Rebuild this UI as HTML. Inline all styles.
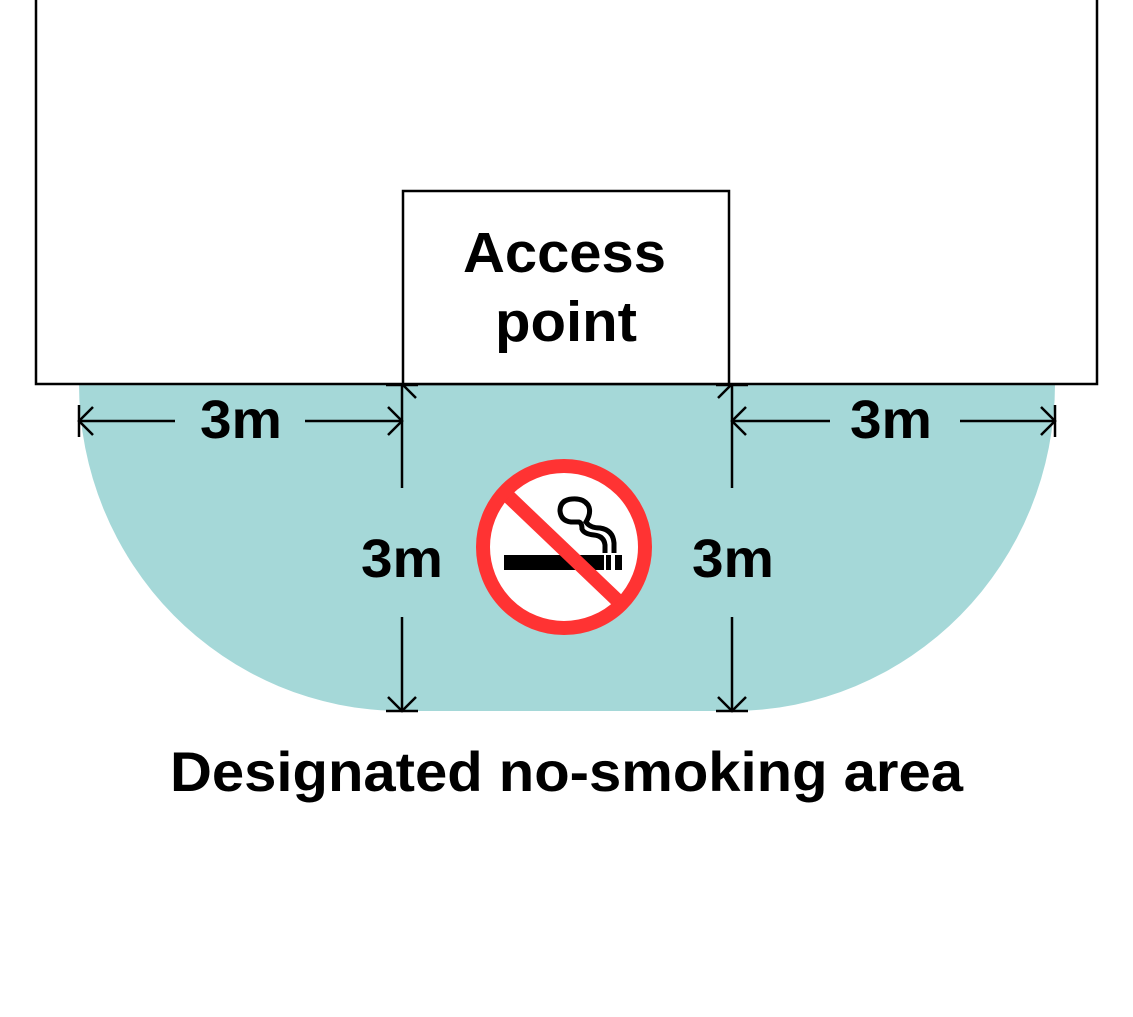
<!DOCTYPE html>
<html><head><style>body{margin:0;background:#fff}svg{display:block}</style></head><body>
<svg width="1133" height="1017" viewBox="0 0 1133 1017" xmlns="http://www.w3.org/2000/svg" font-family="Liberation Sans, sans-serif" font-weight="bold">
<path d="M79 384 L1055 384 A323 327 0 0 1 732 711 L402 711 A323 327 0 0 1 79 384 Z" fill="#a5d8d8"/>
<rect x="36" y="-5" width="1061" height="389" fill="#fff" stroke="#000" stroke-width="2.5"/>
<rect x="403" y="191" width="326" height="193" fill="#fff" stroke="#000" stroke-width="2.5"/>
<text x="463" y="272" font-size="57" textLength="203" lengthAdjust="spacingAndGlyphs">Access</text>
<text x="495" y="341" font-size="57" textLength="142" lengthAdjust="spacingAndGlyphs">point</text>
<g stroke="#000" stroke-width="2.5" fill="none">
<line x1="79" y1="421" x2="175" y2="421"/><line x1="305" y1="421" x2="402" y2="421"/>
<line x1="79" y1="405" x2="79" y2="437"/>
<polyline points="93,407 79,421 93,435"/><polyline points="388,407 402,421 388,435"/>
<line x1="732" y1="421" x2="830" y2="421"/><line x1="960" y1="421" x2="1055" y2="421"/>
<line x1="1055" y1="405" x2="1055" y2="437"/>
<polyline points="746,407 732,421 746,435"/><polyline points="1041,407 1055,421 1041,435"/>
<line x1="402" y1="384" x2="402" y2="488"/><line x1="402" y1="617" x2="402" y2="711"/>
<line x1="386" y1="711" x2="418" y2="711"/><line x1="386" y1="385" x2="418" y2="385"/>
<polyline points="402,384 416,398"/><polyline points="388,697 402,711 416,697"/>
<line x1="732" y1="384" x2="732" y2="488"/><line x1="732" y1="617" x2="732" y2="711"/>
<line x1="716" y1="711" x2="748" y2="711"/><line x1="716" y1="385" x2="748" y2="385"/>
<polyline points="732,384 718,398"/><polyline points="718,697 732,711 746,697"/>
</g>
<text x="200" y="438" font-size="54" textLength="82" lengthAdjust="spacingAndGlyphs">3m</text>
<text x="850" y="438" font-size="54" textLength="82" lengthAdjust="spacingAndGlyphs">3m</text>
<text x="361" y="577" font-size="54" textLength="82" lengthAdjust="spacingAndGlyphs">3m</text>
<text x="692" y="577" font-size="54" textLength="82" lengthAdjust="spacingAndGlyphs">3m</text>
<circle cx="564" cy="547" r="81" fill="#fff" stroke="#ff3333" stroke-width="14"/>
<rect x="504" y="555" width="100" height="15" fill="#000"/>
<rect x="606" y="555" width="5" height="15" fill="#000"/>
<rect x="615" y="555" width="7" height="15" fill="#000"/>
<path d="M614 553 L614 543 Q613 530 600 528 Q590 528 586 522 Q592 512 588 505 Q583 498 572 499 Q560 500 560 511 Q561 521 571 522 L579 522 Q582 523 582 529 Q584 534 594 535 Q604 536 605 545 L605 553" fill="none" stroke="#000" stroke-width="5"/>
<line x1="509" y1="497" x2="618" y2="601" stroke="#ff3333" stroke-width="14"/>
<text x="170" y="791" font-size="56" textLength="793" lengthAdjust="spacingAndGlyphs">Designated no-smoking area</text>
</svg>
</body></html>
